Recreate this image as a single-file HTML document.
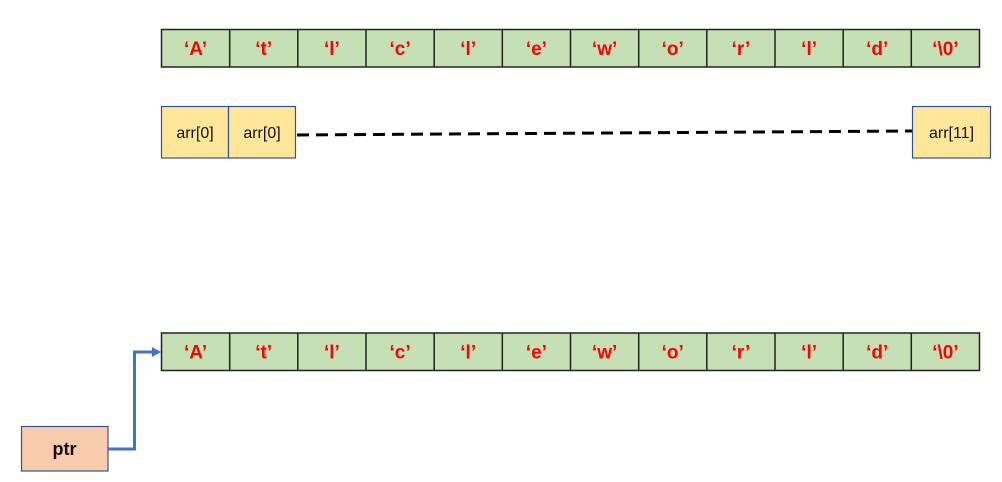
<!DOCTYPE html>
<html><head><meta charset="utf-8"><style>body{margin:0;background:#fff}svg{display:block}</style></head>
<body>
<svg width="1002" height="482" xmlns="http://www.w3.org/2000/svg" font-family="Liberation Sans, sans-serif">
<g id="arr">
<rect x="161.5" y="29.5" width="818" height="37.5" fill="#c5e0b4" stroke="#222" stroke-width="1.5"/>
<g stroke="#222" stroke-width="1.5">
<line x1="229.7" y1="29.5" x2="229.7" y2="67"/><line x1="297.8" y1="29.5" x2="297.8" y2="67"/><line x1="366" y1="29.5" x2="366" y2="67"/><line x1="434.2" y1="29.5" x2="434.2" y2="67"/><line x1="502.3" y1="29.5" x2="502.3" y2="67"/><line x1="570.5" y1="29.5" x2="570.5" y2="67"/><line x1="638.7" y1="29.5" x2="638.7" y2="67"/><line x1="706.8" y1="29.5" x2="706.8" y2="67"/><line x1="775" y1="29.5" x2="775" y2="67"/><line x1="843.2" y1="29.5" x2="843.2" y2="67"/><line x1="911.3" y1="29.5" x2="911.3" y2="67"/>
</g>
<g fill="#ff0000" font-weight="bold" font-size="19" text-anchor="middle">
<text x="195.6" y="55">‘A’</text><text x="263.7" y="55">‘t’</text><text x="331.9" y="55">‘l’</text><text x="400.1" y="55">‘c’</text><text x="468.2" y="55">‘l’</text><text x="536.4" y="55">‘e’</text><text x="604.6" y="55">‘w’</text><text x="672.7" y="55">‘o’</text><text x="740.9" y="55">‘r’</text><text x="809.1" y="55">‘l’</text><text x="877.2" y="55">‘d’</text><text x="945.4" y="55">‘\0’</text>
</g>
</g>
<use href="#arr" y="303.5"/>
<g fill="#ffe699" stroke="#2f5597" stroke-width="1.2">
<rect x="161.5" y="106.5" width="67" height="51.5"/><rect x="228.5" y="106.5" width="67" height="51.5"/><rect x="912.5" y="106.5" width="78" height="51.5"/>
</g>
<g font-size="16" text-anchor="middle" fill="#111">
<text x="195" y="138">arr[0]</text><text x="262" y="138">arr[0]</text><text x="951.5" y="138">arr[11]</text>
</g>
<line x1="297" y1="135" x2="912" y2="131" stroke="#000" stroke-width="3" stroke-dasharray="12,7"/>
<rect x="21.5" y="426.5" width="86.5" height="44.5" fill="#f8cbad" stroke="#2f5597" stroke-width="1.2"/>
<text x="64.5" y="455" font-size="18" font-weight="bold" text-anchor="middle" fill="#111">ptr</text>
<polyline points="108,449 134.5,449 134.5,352 154,352" fill="none" stroke="#4472c4" stroke-width="3"/>
<polygon points="152,347 161,352 152,357" fill="#4472c4"/>
</svg>
</body></html>
